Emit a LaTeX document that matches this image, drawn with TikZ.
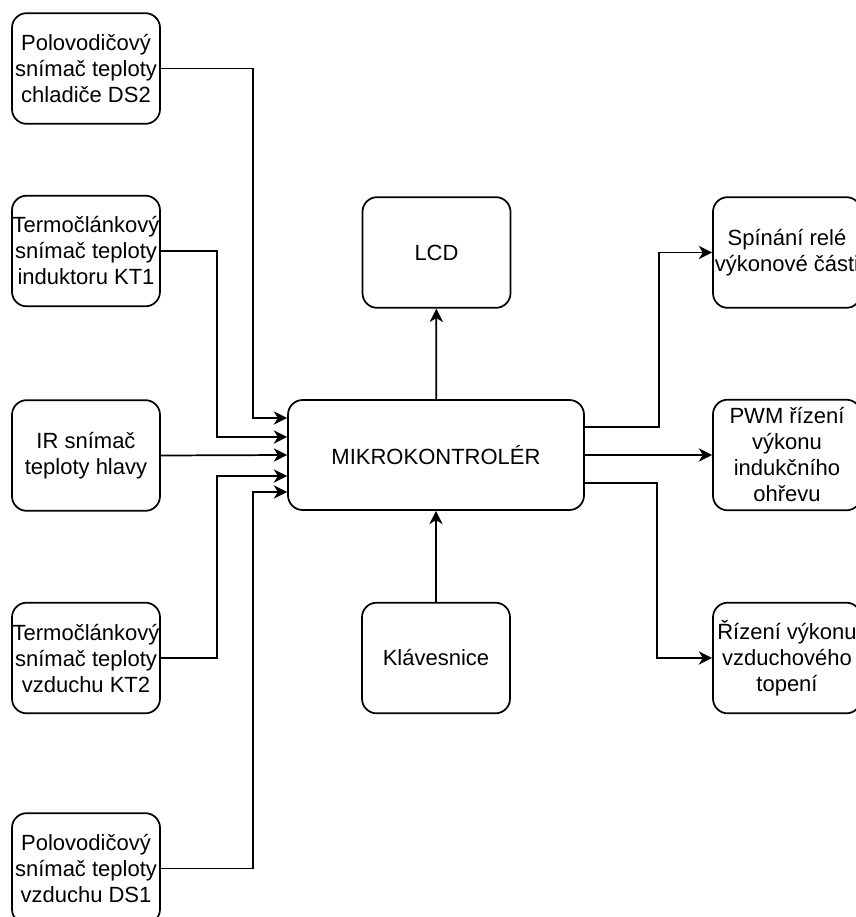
\documentclass[tikz,border=0pt]{standalone}
\usepackage{fontspec}
\setmainfont{Liberation Sans}
\usetikzlibrary{arrows.meta,calc}

\begin{document}
\begin{tikzpicture}[x=0.75pt,y=0.75pt,yscale=-1,xscale=1,
  blok/.style={draw, line width=1.3pt, rounded corners=11pt, minimum width=111pt, minimum height=83pt, inner sep=0pt, align=center, font=\fontsize{16.5}{19.5}\selectfont},
  spoj/.style={line width=1.3pt, -{Stealth[length=10pt,width=10pt,inset=3pt]}}]
\path[use as bounding box, clip] (0,0) rectangle (856,917);

%Sensors (left column)
\node[blok] (ds2) at (86,68.5) {Polovodičový\\snímač teploty\\chladiče DS2};
\node[blok] (kt1) at (86,251) {Termočlánkový\\snímač teploty\\induktoru KT1};
\node[blok] (ir) at (86,455.5) {IR snímač\\teploty hlavy};
\node[blok] (kt2) at (86,658) {Termočlánkový\\snímač teploty\\vzduchu KT2};
\node[blok] (ds1) at (86,868.5) {Polovodičový\\snímač teploty\\vzduchu DS1};

%Controller, display and keypad
\node[blok, minimum width=222pt, minimum height=82.5pt] (mcu) at (436,455) {MIKROKONTROLÉR};
\node[blok] (lcd) at (436.5,252.5) {LCD};
\node[blok] (klav) at (436,658) {Klávesnice};

%Outputs (right column)
\node[blok] (rele) at (787,252.5) {Spínání relé\\výkonové části};
\node[blok] (pwm) at (787,455) {PWM řízení\\výkonu\\indukčního\\ohřevu};
\node[blok] (topeni) at (787,658) {Řízení výkonu\\vzduchového\\topení};

%Entry and exit points on the controller
\coordinate (in1) at ($(mcu.west)+(0,-37)$);
\coordinate (in2) at ($(mcu.west)+(0,-18)$);
\coordinate (in4) at ($(mcu.west)+(0,21)$);
\coordinate (in5) at ($(mcu.west)+(0,37)$);
\coordinate (out1) at ($(mcu.east)+(0,-28)$);
\coordinate (out3) at ($(mcu.east)+(0,28)$);

%Connectors
\draw[spoj] (ds2.east) -- ++(92,0) |- (in1);
\draw[spoj] (kt1.east) -- ++(56,0) |- (in2);
\draw[spoj] (ir.east) -- (mcu.west);
\draw[spoj] (kt2.east) -- ++(56,0) |- (in4);
\draw[spoj] (ds1.east) -- ++(92,0) |- (in5);
\draw[spoj] (mcu) -- (lcd);
\draw[spoj] (klav) -- (mcu);
\draw[spoj] (out1) -- ++(74,0) |- (rele.west);
\draw[spoj] (mcu.east) -- (pwm.west);
\draw[spoj] (out3) -- ++(72,0) |- (topeni.west);

\end{tikzpicture}
\end{document}
